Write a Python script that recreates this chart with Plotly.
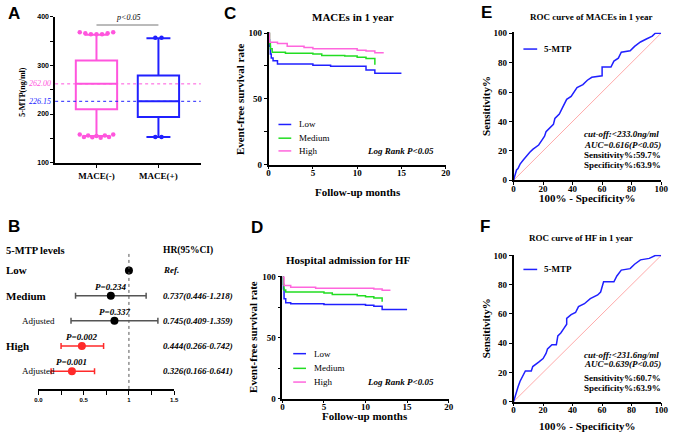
import plotly.graph_objects as go
import numpy as np

W, H = 676, 438
def px(x): return x / W
def py(y): return 1 - y / H

SERIF = "Liberation Serif, Times New Roman, serif"
SANS = "Liberation Sans, Arial, sans-serif"
PINK = "#ff55dd"
BLUE = "#2020ff"
GREEN = "#22dd22"
KM_PINK = "#ff66dd"
RED = "#ff2a2a"
GRAY = "#555555"

# ---------------- Panel A data ----------------
box_groups = ["MACE(-)", "MACE(+)"]
box_q1 = [210, 194]
box_median = [262.00, 226.15]
box_q3 = [310, 279]
box_low = [155, 153]
box_high = [363, 356]
out_hi_neg = [368, 366, 364, 364, 364, 366, 368]
out_lo_neg = [158, 153, 156, 152, 155, 151, 156, 153, 158]
out_hi_pos = [357, 357]
out_lo_pos = [153, 153]

# ---------------- Panel B data ----------------
levels = ["Low", "Medium", "Adjusted", "High", "Adjusted"]
level_bold = [True, True, False, True, False]
hr_text = ["Ref.", "0.737(0.446-1.218)", "0.745(0.409-1.359)",
           "0.444(0.266-0.742)", "0.326(0.166-0.641)"]
p_text = ["", "P=0.234", "P=0.337", "P=0.002", "P=0.001"]
hr_est = [1.0, 0.80, 0.84, 0.48, 0.37]
ci_lo = [1.0, 0.41, 0.36, 0.25, 0.14]
ci_hi = [1.0, 1.19, 1.32, 0.72, 0.62]

# ---------------- Panel C data (MACEs) ----------------
c_low_t = [0, 0.05, 0.1, 0.2, 0.3, 0.5, 1, 5, 7, 11, 12, 15]
c_low_s = [100, 95, 90, 84, 81, 79, 76.5, 75.5, 74.8, 72, 69.5, 69.5]
c_med_t = [0, 0.1, 0.2, 0.4, 1.9, 5, 6, 8.6, 10, 11, 12]
c_med_s = [100, 92, 88, 85.4, 84.6, 84, 83, 82.5, 81.7, 80.7, 76]
c_high_t = [0, 0.1, 1, 2.1, 4, 5, 10, 11, 12, 13]
c_high_s = [100, 93, 92, 90, 89, 88, 87, 86.4, 85, 85]

# ---------------- Panel D data (HF) ----------------
d_low_t = [0, 0.1, 0.2, 0.4, 1, 5, 10, 11, 12, 15]
d_low_s = [100, 90, 82, 78.7, 78, 77.3, 76.8, 76, 73.3, 73.3]
d_med_t = [0, 0.1, 0.2, 0.4, 5, 6, 9, 10, 11, 12]
d_med_s = [100, 94, 89.3, 87.7, 86.7, 85.6, 84.5, 83.7, 82.7, 79.5]
d_high_t = [0, 0.2, 1, 4, 11, 12, 13]
d_high_s = [100, 93, 91.5, 90.7, 90, 89, 89]

km_groups = ["Low", "Medium", "High"]

# ---------------- Panel E data (ROC MACEs) ----------------
e_fpr = [0, 1, 2, 3, 4.4, 6.7, 9, 11, 13, 17, 19, 21, 22, 24, 27, 28, 31, 33, 36, 39, 41,
         43, 47, 50, 53, 58, 60, 60, 66, 68, 71, 73, 79, 82, 86, 90, 94, 96, 100]
e_tpr = [0, 3, 7, 8, 11, 14, 17, 19, 21, 24, 27, 30, 33, 35, 38, 42, 45, 49, 55, 57, 60,
         63, 65, 68, 70, 71, 71, 77, 77, 81, 83, 87, 88, 91, 94, 96, 98, 100, 100]

# ---------------- Panel F data (ROC HF) ----------------
f_fpr = [0, 1.5, 3, 4.4, 6, 8, 12, 13, 17, 20, 22, 23, 26, 29, 30, 32, 34, 36, 36, 39, 42,
         44, 48, 52, 57, 59, 61, 68, 70, 73, 79, 82, 86, 92, 96, 100]
f_tpr = [0, 6, 10, 14, 17, 21, 21, 24, 27, 29.5, 33, 36, 39, 39, 45, 47, 50, 53, 57, 59.5, 61,
         65, 67, 70.5, 73, 75, 82, 82, 86, 90, 91, 94, 97, 98, 100, 100]

fig = go.Figure()

# ---------- A ----------
for i, col in enumerate([PINK, BLUE]):
    fig.add_trace(go.Box(x=[i], q1=[box_q1[i]], median=[box_median[i]], q3=[box_q3[i]],
                         lowerfence=[box_low[i]], upperfence=[box_high[i]],
                         width=0.667, whiskerwidth=0.58, boxpoints=False,
                         line=dict(color=col, width=2), fillcolor="rgba(255,255,255,0)",
                         orientation="v", xaxis="x", yaxis="y", showlegend=False,
                         hoverinfo="skip"))

def spread(vals, center, half):
    return list(center + np.linspace(-half, half, len(vals)))

fig.add_trace(go.Scatter(x=spread(out_hi_neg, 0, 0.27) + spread(out_lo_neg, 0, 0.27),
                         y=out_hi_neg + out_lo_neg, mode="markers",
                         marker=dict(color=PINK, size=4.5), xaxis="x", yaxis="y",
                         showlegend=False, cliponaxis=False))
fig.add_trace(go.Scatter(x=spread(out_hi_pos, 1, 0.05) + spread(out_lo_pos, 1, 0.05),
                         y=out_hi_pos + out_lo_pos, mode="markers",
                         marker=dict(color=BLUE, size=4.5), xaxis="x", yaxis="y",
                         showlegend=False, cliponaxis=False))

# ---------- B ----------
rows = list(range(len(levels), 0, -1))
fig.add_trace(go.Scatter(x=[hr_est[0]], y=[rows[0]], mode="markers",
                         marker=dict(color="black", size=8), xaxis="x2", yaxis="y2",
                         showlegend=False))
for idxs, lc, mc in [([1, 2], GRAY, "black"), ([3, 4], RED, RED)]:
    fig.add_trace(go.Scatter(
        x=[hr_est[j] for j in idxs], y=[rows[j] for j in idxs], mode="markers",
        marker=dict(color=mc, size=8),
        error_x=dict(type="data", symmetric=False,
                     array=[ci_hi[j] - hr_est[j] for j in idxs],
                     arrayminus=[hr_est[j] - ci_lo[j] for j in idxs],
                     color=lc, thickness=1.5, width=3),
        xaxis="x2", yaxis="y2", showlegend=False))

# ---------- C / D ----------
km_colors = [BLUE, GREEN, KM_PINK]
for (ax, ay), series in [(("x3", "y3"), [(c_low_t, c_low_s), (c_med_t, c_med_s), (c_high_t, c_high_s)]),
                         (("x4", "y4"), [(d_low_t, d_low_s), (d_med_t, d_med_s), (d_high_t, d_high_s)])]:
    for (t, s), col in zip(series, km_colors):
        fig.add_trace(go.Scatter(x=t, y=s, mode="lines", line=dict(color=col, width=1.5, shape="hv"),
                                 xaxis=ax, yaxis=ay, showlegend=False))

# ---------- E / F ----------
for (ax, ay), (fx, fy) in [(("x5", "y5"), (e_fpr, e_tpr)), (("x6", "y6"), (f_fpr, f_tpr))]:
    fig.add_trace(go.Scatter(x=[0, 100], y=[0, 100], mode="lines",
                             line=dict(color="#ffaaaa", width=1), xaxis=ax, yaxis=ay, showlegend=False))
    fig.add_trace(go.Scatter(x=fx, y=fy, mode="lines", line=dict(color=BLUE, width=1.5),
                             xaxis=ax, yaxis=ay, showlegend=False))

# ---------- axes ----------
def axis(domain, rng, anchor, tickvals, ticktext=None, fsize=9, family=SERIF, ticklen=3, **kw):
    d = dict(domain=domain, range=rng, anchor=anchor, showline=True, linecolor="black",
             linewidth=1.5, ticks="outside", ticklen=ticklen, tickwidth=1.2, tickcolor="black",
             showgrid=False, zeroline=False, fixedrange=True, tickvals=tickvals,
             tickfont=dict(family=family, size=fsize, color="black", weight="bold"))
    if ticktext is not None:
        d["ticktext"] = ticktext
    d.update(kw)
    return d

a_ticks = list(range(100, 401, 50))
a_text = [str(v) if v % 100 == 0 else "" for v in a_ticks]
b_ticks = [0, 0.25, 0.5, 0.75, 1, 1.25, 1.5]
b_text = ["0.0", "", "0.5", "", "1", "", "1.5"]
km_y = [0, 25, 50, 75, 100]
km_ytext = ["0", "", "50", "", "100"]
km_x = [0, 5, 10, 15, 20]
roc_t = [0, 20, 40, 60, 80, 100]

XS = dict(ticklabelstandoff=-4)
fig.update_layout(
    width=W, height=H, margin=dict(l=0, r=0, t=0, b=0),
    paper_bgcolor="white", plot_bgcolor="white",
    xaxis=axis([px(52), px(200)], [-0.667, 1.683], "y", [0, 1], box_groups, fsize=9, ticklen=4),
    yaxis=axis([py(162), py(13)], [100, 400], "x", a_ticks, a_text, fsize=7, family=SANS),
    xaxis2=axis([px(35), px(173)], [0, 1.5], "y2", b_ticks, b_text, fsize=6, family=SANS, ticklen=4),
    yaxis2=dict(domain=[py(393), py(245)], range=[0.3, 6.05], anchor="x2", visible=False, fixedrange=True),
    xaxis3=axis([px(269), px(449)], [0, 20], "y3", km_x, **XS),
    yaxis3=axis([py(164), py(29)], [0, 100.5], "x3", km_y, km_ytext),
    xaxis4=axis([px(283), px(452)], [0, 20], "y4", km_x, **XS),
    yaxis4=axis([py(403), py(278)], [0, 100.5], "x4", km_y, km_ytext),
    xaxis5=axis([px(518), px(668)], [0, 100], "y5", roc_t, **XS),
    yaxis5=axis([py(180), py(29)], [0, 100.5], "x5", roc_t),
    xaxis6=axis([px(518), px(668)], [0, 100], "y6", roc_t, **XS),
    yaxis6=axis([py(406), py(256)], [0, 100.5], "x6", roc_t),
)

ann = []
def txt(x, y, s, size, bold=True, italic=False, color="black", xanchor="left", yanchor="middle",
        family=SERIF, angle=0, xref="paper", yref="paper", yshift=0):
    if bold:
        s = f"<b>{s}</b>"
    if italic:
        s = f"<i>{s}</i>"
    ann.append(dict(x=x, y=y, text=s, showarrow=False, xanchor=xanchor, yanchor=yanchor,
                    font=dict(family=family, size=size, color=color), textangle=angle,
                    xref=xref, yref=yref, yshift=yshift))

shapes = []
def hline(x0, x1, y0, y1=None, color="black", width=1, dash="solid", xref="paper", yref="paper"):
    shapes.append(dict(type="line", x0=x0, x1=x1, y0=y0, y1=y0 if y1 is None else y1,
                       xref=xref, yref=yref, line=dict(color=color, width=width, dash=dash)))

# panel letters
for L, x, y in [("A", 2, 10), ("B", 2, 227), ("C", 222, 10), ("D", 249, 228), ("E", 483, 9), ("F", 482, 227)]:
    txt(px(x), py(y), L, 17, family=SANS)

# A annotations
txt(px(18), py(90), "5-MTP(ng/ml)", 8, angle=-90, xanchor="center")
hline(px(52), px(200), box_median[0], color=PINK, dash="dot", yref="y")
hline(px(52), px(200), box_median[1], color=BLUE, dash="dot", yref="y")
txt(px(50), box_median[0], f"{box_median[0]:.2f}", 8, bold=False, italic=True, color=PINK,
    xanchor="right", yref="y")
txt(px(50), box_median[1], f"{box_median[1]:.2f}", 8, bold=False, italic=True, color=BLUE,
    xanchor="right", yref="y")
hline(0, 1, 383, color="#777777", width=1, xref="x", yref="y")
txt(px(126), py(14), "p&lt;0.05", 8, bold=False, italic=True, xanchor="center")

# B annotations
txt(px(0), py(252), "5-MTP levels", 10.5)
txt(px(160), py(252), "HR(95%CI)", 9.5)
shapes.append(dict(type="line", x0=1, x1=1, y0=0.3, y1=5.66, xref="x2", yref="y2",
                   line=dict(color="#555555", width=1, dash="dot")))
for i, lab in enumerate(levels):
    if level_bold[i]:
        txt(px(0), rows[i], lab, 11, yref="y2")
    else:
        txt(px(16), rows[i], lab, 9, bold=False, yref="y2")
    txt(px(160), rows[i], hr_text[i], 9, italic=True, yref="y2")
    if p_text[i]:
        txt(hr_est[i], rows[i], p_text[i], 9, italic=True, xanchor="center", xref="x2",
            yref="y2", yshift=9)

# C / D annotations
for title, tx, ty, ylx, yly, xlx, xly, legx, legys, lrx, lry in [
        ("MACEs in 1 year", 355, 13, 240, 97, 360, 192, 279, [123, 137, 150], 367, 150),
        ("Hospital admission for HF", 350, 261, 253, 340, 367, 421, 294, [357, 372, 386], 367, 386)]:
    txt(px(tx), py(ty), title, 11, xanchor="center")
    txt(px(ylx), py(yly), "Event-free survival rate", 11, angle=-90, xanchor="center")
    txt(px(xlx), py(xly), "Follow-up months", 11, xanchor="center")
    for g, col, yy in zip(km_groups, km_colors, legys):
        hline(px(legx), px(legx + 13), py(yy), color=col, width=1.5)
        txt(px(legx + 19), py(yy), g, 9, bold=False)
    txt(px(lrx), py(lry), "Log Rank P&lt;0.05", 9, italic=True)

# E / F annotations
for title, tx, ty, yly, xly, legy, notes, notey in [
        ("ROC curve of MACEs in 1 year", 597, 13, 104, 198, 46,
         ["cut-off:&lt;233.0ng/ml", "AUC=0.616(P&lt;0.05)", "Sensitivity%:59.7%", "Specificity%:63.9%"],
         [133, 144, 154, 164]),
        ("ROC curve of HF in 1 year", 587, 239, 331, 431, 271,
         ["cut-off:&lt;231.6ng/ml", "AUC=0.639(P&lt;0.05)", "Sensitivity%:60.7%", "Specificity%:63.9%"],
         [358, 368, 382, 392])]:
    txt(px(tx), py(ty), title, 9, xanchor="center")
    txt(px(490), py(yly), "Sensitivity%", 11, angle=-90, xanchor="center")
    txt(px(593), py(xly), "100% - Specificity%", 11, xanchor="center")
    hline(px(528), px(542), py(legy), color=BLUE, width=1.5)
    txt(px(547), py(legy), "5-MTP", 9)
    for k, (s, yy) in enumerate(zip(notes, notey)):
        txt(px(588), py(yy), s, 9, italic=(k < 2))

fig.update_layout(annotations=ann, shapes=shapes)
fig.write_html("out.html", config={"displayModeBar": False},
               post_script="document.body.style.margin='0';document.body.style.overflow='hidden';")
